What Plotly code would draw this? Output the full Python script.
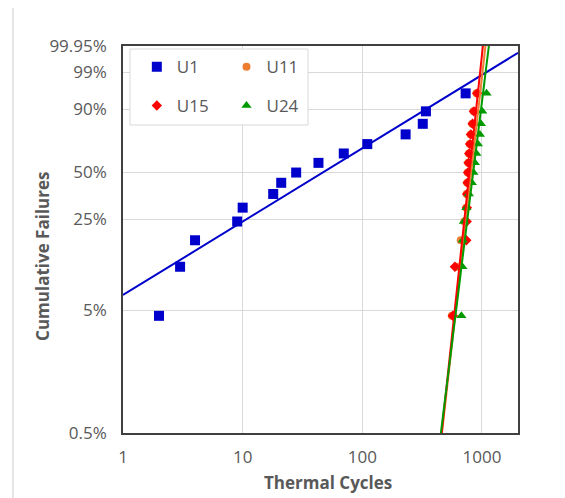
import numpy as np
import plotly.graph_objects as go

# ---- data ----
ranks_F = [0.045, 0.11, 0.175, 0.24, 0.30, 0.37, 0.435, 0.50, 0.565, 0.63, 0.695, 0.76, 0.825, 0.89, 0.955]

u1_cycles = [2, 3, 4, 9, 10, 18, 21, 28, 43, 70, 110, 230, 320, 340, 730]
u11_cycles = [560, 610, 665, 712, 738, 745, 752, 760, 768, 778, 790, 805, 828, 850, 900]
u15_cycles = [571, 594, 740, 745, 748, 752, 758, 765, 772, 782, 795, 808, 835, 856, 912]
u24_cycles = [673, 686, 692, 706, 741, 777, 823, 848, 872, 898, 924, 961, 979, 1004, 1092]

# Weibull fit lines (shape beta, scale eta)
fit_beta = {"U1": 0.603, "U11": 8.75, "U15": 9.22, "U24": 7.93}
fit_eta = {"U1": 85.7, "U11": 848, "U15": 817, "U24": 884}

y_tick_F = [0.005, 0.05, 0.25, 0.50, 0.90, 0.99, 0.9995]
y_tick_text = ["0.5%", "5%", "25%", "50%", "90%", "99%", "99.95%"]
x_tick_vals = [1, 10, 100, 1000]
x_tick_text = ["1", "10", "100", "1000"]

colors = {"U1": "#0000CC", "U11": "#ED7D31", "U15": "#FF0000", "U24": "#009A00"}
symbols = {"U1": "square", "U11": "circle", "U15": "diamond", "U24": "triangle-up"}
sizes = {"U1": 10, "U11": 8, "U15": 8, "U24": 9}


def weib(F):
    F = np.asarray(F, dtype=float)
    return np.log(-np.log(1.0 - F))


series = {"U1": u1_cycles, "U11": u11_cycles, "U15": u15_cycles, "U24": u24_cycles}
legend_ids = {"U1": "legend", "U11": "legend2", "U15": "legend3", "U24": "legend4"}

fig = go.Figure()
for name, cyc in series.items():
    fig.add_trace(go.Scatter(
        x=cyc, y=weib(ranks_F), mode="markers", name=name,
        marker=dict(symbol=symbols[name], size=sizes[name], color=colors[name]),
        legend=legend_ids[name], cliponaxis=False,
    ))

ymin, ymax = float(weib(0.005)), float(weib(0.9995))
for name in series:
    b, e = fit_beta[name], fit_eta[name]
    if name == "U1":
        t = np.array([1.0, 2000.0])
    else:
        w = np.array([ymin - 0.3, ymax + 0.3])
        t = np.exp(np.log(e) + w / b)
    fig.add_trace(go.Scatter(
        x=t, y=b * (np.log(t) - np.log(e)), mode="lines",
        line=dict(color=colors[name], width=2), showlegend=False, hoverinfo="skip",
    ))

font_fam = "Open Sans, Noto Sans, sans-serif"
tick_font = dict(family=font_fam, size=17, color="#595959")
title_font = dict(family=font_fam, size=17, color="#595959")

fig.update_layout(
    width=565, height=498,
    margin=dict(l=115, r=55, t=38, b=73),
    paper_bgcolor="white", plot_bgcolor="white",
    font=dict(family=font_fam, color="#595959"),
    xaxis=dict(
        type="log", range=[0, np.log10(2000)],
        tickvals=x_tick_vals, ticktext=x_tick_text, tickfont=tick_font,
        showgrid=True, gridcolor="#D9D9D9", gridwidth=1,
        showline=True, linecolor="#404040", linewidth=1.6, mirror=True,
        ticks="", ticklabelstandoff=8, zeroline=False,
    ),
    yaxis=dict(
        range=[ymin, ymax],
        tickvals=list(weib(y_tick_F)), ticktext=y_tick_text, tickfont=tick_font,
        showgrid=True, gridcolor="#D9D9D9", gridwidth=1,
        showline=True, linecolor="#404040", linewidth=1.6, mirror=True,
        ticks="", ticklabelstandoff=11, zeroline=False,
    ),
    annotations=[
        dict(text="<b>Cumulative Failures</b>", xref="paper", yref="paper",
             x=-0.2025, y=0.455, xanchor="center", yanchor="middle",
             textangle=-90, showarrow=False, font=title_font),
        dict(text="<b>Thermal Cycles</b>", xref="paper", yref="paper",
             x=0.518, y=-0.129, xanchor="center", yanchor="middle",
             showarrow=False, font=title_font),
    ],
    shapes=[
        dict(type="rect", xref="paper", yref="paper", x0=0.0177, x1=0.4684,
             y0=0.7959, y1=0.9922, fillcolor="white",
             line=dict(color="#D9D9D9", width=1), layer="above"),
        dict(type="rect", xref="paper", yref="paper", x0=-0.2785, x1=2,
             y0=-1, y1=1.1008, fillcolor="rgba(0,0,0,0)",
             line=dict(color="#D4D4D4", width=1.2), layer="below"),
    ],
)

leg_common = dict(bgcolor="rgba(0,0,0,0)", borderwidth=0, xanchor="left", yanchor="middle",
                  font=dict(family=font_fam, size=17, color="#595959"))
fig.update_layout(
    legend=dict(x=0.035, y=0.945, **leg_common),
    legend2=dict(x=0.262, y=0.945, **leg_common),
    legend3=dict(x=0.035, y=0.845, **leg_common),
    legend4=dict(x=0.262, y=0.845, **leg_common),
)

fig.write_html("out.html")
